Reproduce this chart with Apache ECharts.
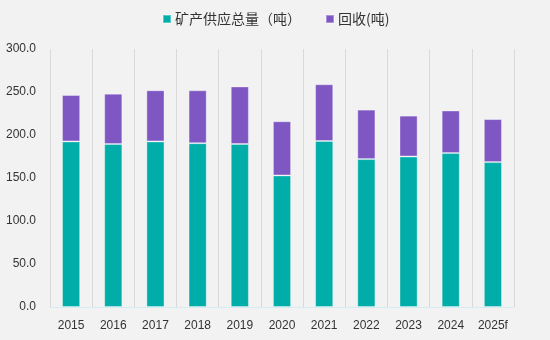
<!DOCTYPE html>
<html><head><meta charset="utf-8">
<script src="https://cdn.jsdelivr.net/npm/echarts@6/dist/echarts.min.js"></script>
<style>html,body{margin:0;padding:0;background:#f2f2f2;}#c{width:550px;height:340px;}</style>
</head><body><div id="c"></div>
<script>
var categories = ['2015','2016','2017','2018','2019','2020','2021','2022','2023','2024','2025f'];
var mineSupply = [192.5, 189.5, 192.5, 190.5, 189.5, 153, 193, 172, 175, 179, 168.5];
var recycling = [54, 58.5, 59.5, 61.5, 67, 63, 66, 57.5, 47.5, 49.5, 50];
var seriesNames = ['矿产供应总量（吨）', '回收(吨)'];
var chart = echarts.init(document.getElementById('c'));
chart.setOption({
  backgroundColor: '#f2f2f2',
  animation: false,
  legend: {
    top: 7, left: 157, itemWidth: 8, itemHeight: 8, itemGap: 24,
    icon: 'rect',
    textStyle: {fontSize: 14, color: '#333333', fontFamily: 'Noto Sans CJK SC', padding: [0,0,0,-1]},
    data: seriesNames
  },
  grid: {left: 50, right: 36, top: 49, bottom: 33},
  xAxis: {
    type: 'category', data: categories,
    axisLine: {lineStyle: {color: '#d6ecf3'}},
    axisTick: {show: false},
    splitLine: {show: true, lineStyle: {color: '#d9d9d9'}},
    axisLabel: {fontSize: 12, color: '#333333', margin: 13, fontFamily: 'Liberation Sans'}
  },
  yAxis: {
    type: 'value', min: 0, max: 300, interval: 50,
    axisLine: {show: false}, axisTick: {show: false},
    splitLine: {show: false},
    axisLabel: {fontSize: 12, color: '#333333', margin: 14, fontFamily: 'Liberation Sans',
      formatter: function(v){ return v.toFixed(1); }}
  },
  series: [
    {name: seriesNames[0], type: 'bar', stack: 's', data: mineSupply, barWidth: '43%',
     itemStyle: {color: '#00ada9', borderColor: 'rgba(255,255,255,0.35)', borderWidth: 1}},
    {name: seriesNames[1], type: 'bar', stack: 's', data: recycling, barWidth: '43%',
     itemStyle: {color: '#7e57c2', borderColor: 'rgba(255,255,255,0.35)', borderWidth: 1}}
  ]
});
</script></body></html>
